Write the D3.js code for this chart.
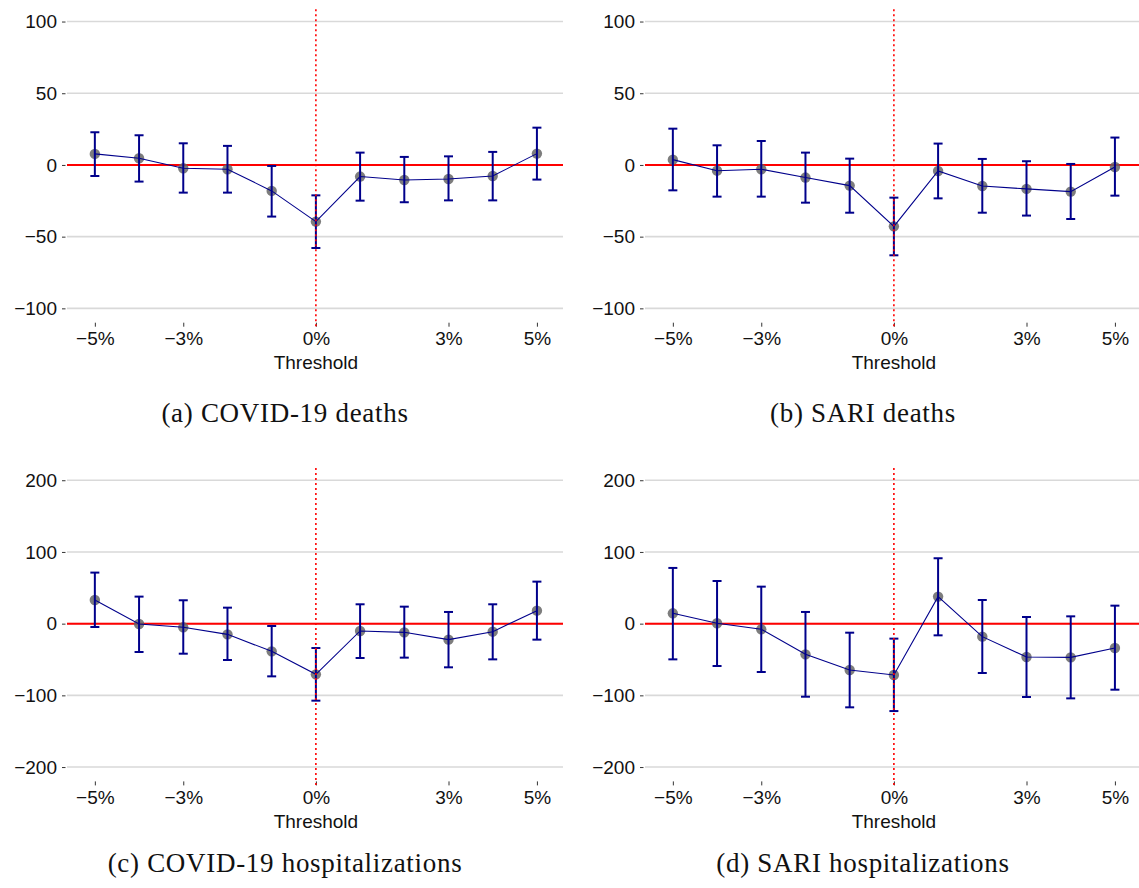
<!DOCTYPE html>
<html>
<head>
<meta charset="utf-8">
<script src="https://cdn.jsdelivr.net/npm/d3@7"></script>
<style>
  body { margin: 0; background: #fff; }
</style>
</head>
<body>
<div id="chart"></div>
<script>
const thresholds = [-5, -4, -3, -2, -1, 0, 1, 2, 3, 4, 5];
const xTickValues = [-5, -3, 0, 3, 5];
const deathTicks = [-100, -50, 0, 50, 100];
const hospTicks = [-200, -100, 0, 100, 200];

// (a) COVID-19 deaths
const covidDeathsEst = [7.7, 4.7, -2.3, -3.0, -18.1, -39.5, -8.1, -10.5, -9.8, -7.7, 7.9];
const covidDeathsLo = [-7.7, -11.6, -19.3, -19.3, -36.0, -57.9, -24.9, -26.0, -24.7, -24.7, -10.2];
const covidDeathsHi = [22.8, 20.7, 15.1, 13.3, -0.7, -21.2, 8.6, 5.6, 6.0, 9.1, 26.0];

// (b) SARI deaths
const sariDeathsEst = [3.7, -4.0, -3.0, -8.8, -14.4, -42.8, -4.2, -14.7, -16.7, -18.6, -1.4];
const sariDeathsLo = [-17.7, -22.1, -22.1, -26.3, -33.3, -63.0, -23.3, -33.3, -35.3, -37.7, -21.4];
const sariDeathsHi = [25.3, 13.7, 16.7, 8.6, 4.4, -22.8, 14.9, 4.2, 2.6, 0.7, 19.1];

// (c) COVID-19 hospitalizations
const covidHospEst = [33.0, -0.5, -5.1, -14.9, -38.6, -70.7, -10.2, -12.1, -22.3, -11.2, 18.1];
const covidHospLo = [-4.7, -39.5, -41.9, -50.7, -73.5, -107.4, -47.9, -47.4, -60.9, -49.8, -22.3];
const covidHospHi = [71.2, 37.7, 32.6, 22.3, -3.3, -34.0, 27.0, 23.7, 16.3, 27.0, 58.6];

// (d) SARI hospitalizations
const sariHospEst = [14.4, 0.5, -7.9, -42.8, -64.7, -71.6, 37.7, -18.1, -46.5, -47.0, -34.0];
const sariHospLo = [-49.8, -59.1, -67.4, -101.9, -116.7, -121.9, -16.3, -68.8, -102.3, -104.2, -92.1];
const sariHospHi = [77.7, 59.5, 51.6, 16.3, -12.6, -20.9, 91.2, 33.0, 9.3, 10.2, 25.1];

const captions = ['(a) COVID-19 deaths', '(b) SARI deaths',
                  '(c) COVID-19 hospitalizations', '(d) SARI hospitalizations'];

const w = 1139;
const h = 888;
const sansFont = '"Liberation Sans", Arial, Helvetica, sans-serif';
const serifFont = '"Liberation Serif", "Times New Roman", serif';
const navy = '#00008b';

const svg = d3.select('#chart')
  .append('svg')
  .attr('width', w)
  .attr('height', h);

const panels = [
  { est: covidDeathsEst, lo: covidDeathsLo, hi: covidDeathsHi, ticks: deathTicks, extent: 110, caption: captions[0], dx: 0, dy: 0, capY: 422 },
  { est: sariDeathsEst, lo: sariDeathsLo, hi: sariDeathsHi, ticks: deathTicks, extent: 110, caption: captions[1], dx: 578, dy: 0, capY: 422 },
  { est: covidHospEst, lo: covidHospLo, hi: covidHospHi, ticks: hospTicks, extent: 220, caption: captions[2], dx: 0, dy: 458.7, capY: 872 },
  { est: sariHospEst, lo: sariHospLo, hi: sariHospHi, ticks: hospTicks, extent: 220, caption: captions[3], dx: 578, dy: 458.7, capY: 872 }
];

function fmtNum(d) {
  return d < 0 ? '\u2212' + Math.abs(d) : String(d);
}

panels.forEach(function(p) {
  const g = svg.append('g')
    .attr('transform', 'translate(' + p.dx + ',' + p.dy + ')');

  const xScale = d3.scaleLinear()
    .domain([-5.63, 5.59])
    .range([67, 563]);

  const yScale = d3.scaleLinear()
    .domain([-p.extent, p.extent])
    .range([322.7, 7.2]);

  const rows = thresholds.map(function(t, i) {
    return { t: t, est: p.est[i], lo: p.lo[i], hi: p.hi[i] };
  });

  // grid lines
  g.selectAll('line.grid')
    .data(p.ticks)
    .enter()
    .append('line')
    .attr('class', 'grid')
    .attr('x1', xScale.range()[0])
    .attr('x2', xScale.range()[1])
    .attr('y1', function(d) { return yScale(d); })
    .attr('y2', function(d) { return yScale(d); })
    .attr('stroke', '#d9d9d9')
    .attr('stroke-width', 1.6);

  // y axis
  const yAxis = d3.axisLeft(yScale)
    .tickValues(p.ticks)
    .tickSize(3.5)
    .tickPadding(5)
    .tickFormat(fmtNum);

  const ya = g.append('g')
    .attr('transform', 'translate(65.5,0)')
    .call(yAxis);
  ya.select('.domain').remove();
  ya.selectAll('line').attr('stroke', '#333');
  ya.selectAll('text')
    .attr('font-family', sansFont)
    .attr('font-size', '19px')
    .attr('fill', '#111');

  // x axis
  const xAxis = d3.axisBottom(xScale)
    .tickValues(xTickValues)
    .tickSize(4)
    .tickPadding(5)
    .tickFormat(function(d) { return fmtNum(d) + '%'; });

  const xa = g.append('g')
    .attr('transform', 'translate(0,322.7)')
    .call(xAxis);
  xa.select('.domain').remove();
  xa.selectAll('line').attr('stroke', '#333');
  xa.selectAll('text')
    .attr('font-family', sansFont)
    .attr('font-size', '19px')
    .attr('fill', '#111');

  g.append('text')
    .text('Threshold')
    .attr('x', xScale(0))
    .attr('y', 369)
    .attr('text-anchor', 'middle')
    .attr('font-family', sansFont)
    .attr('font-size', '19px')
    .attr('fill', '#111');

  // zero line
  g.append('line')
    .attr('x1', xScale.range()[0])
    .attr('x2', xScale.range()[1])
    .attr('y1', yScale(0))
    .attr('y2', yScale(0))
    .attr('stroke', '#ff0000')
    .attr('stroke-width', 2);

  // points
  g.selectAll('circle')
    .data(rows)
    .enter()
    .append('circle')
    .attr('cx', function(d) { return xScale(d.t); })
    .attr('cy', function(d) { return yScale(d.est); })
    .attr('r', 5.2)
    .attr('fill', '#666')
    .attr('fill-opacity', 0.85);

  // connecting line
  const line = d3.line()
    .x(function(d) { return xScale(d.t); })
    .y(function(d) { return yScale(d.est); });

  g.append('path')
    .datum(rows)
    .attr('d', line)
    .attr('fill', 'none')
    .attr('stroke', navy)
    .attr('stroke-width', 1.1);

  // error bars
  const bars = g.selectAll('g.bar')
    .data(rows)
    .enter()
    .append('g')
    .attr('class', 'bar')
    .attr('stroke', navy)
    .attr('stroke-width', 2);

  bars.append('line')
    .attr('x1', function(d) { return xScale(d.t); })
    .attr('x2', function(d) { return xScale(d.t); })
    .attr('y1', function(d) { return yScale(d.lo); })
    .attr('y2', function(d) { return yScale(d.hi); });

  bars.append('line')
    .attr('x1', function(d) { return xScale(d.t) - 4.5; })
    .attr('x2', function(d) { return xScale(d.t) + 4.5; })
    .attr('y1', function(d) { return yScale(d.hi); })
    .attr('y2', function(d) { return yScale(d.hi); });

  bars.append('line')
    .attr('x1', function(d) { return xScale(d.t) - 4.5; })
    .attr('x2', function(d) { return xScale(d.t) + 4.5; })
    .attr('y1', function(d) { return yScale(d.lo); })
    .attr('y2', function(d) { return yScale(d.lo); });

  // dotted threshold line
  g.append('line')
    .attr('x1', xScale(0))
    .attr('x2', xScale(0))
    .attr('y1', yScale(p.extent) + 2)
    .attr('y2', yScale(-p.extent) + 4)
    .attr('stroke', '#ff0000')
    .attr('stroke-width', 1.6)
    .attr('stroke-dasharray', '2,3');

  // caption
  svg.append('text')
    .text(p.caption)
    .attr('x', 285 + p.dx)
    .attr('y', p.capY)
    .attr('text-anchor', 'middle')
    .attr('font-family', serifFont)
    .attr('font-size', '27px')
    .attr('letter-spacing', '0.7px')
    .attr('fill', '#111');
});
</script>
</body>
</html>
